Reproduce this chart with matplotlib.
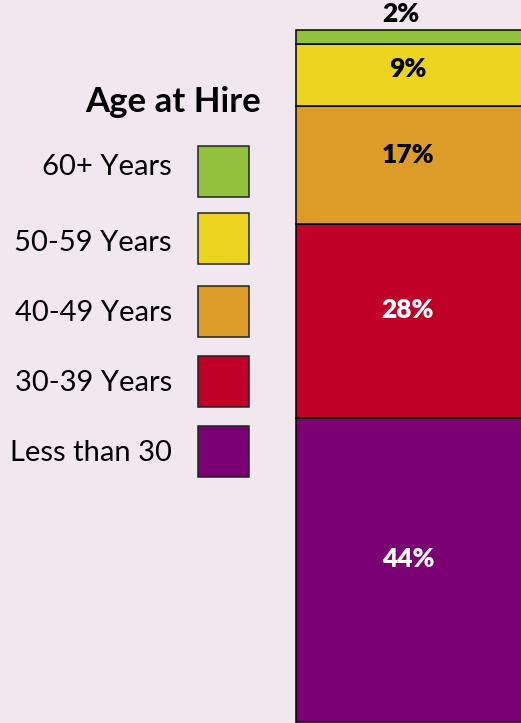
import matplotlib.pyplot as plt
from matplotlib.patches import Rectangle

# data (bottom to top)
categories = ["Less than 30", "30-39 Years", "40-49 Years", "50-59 Years", "60+ Years"]
shares = [44, 28, 17, 9, 2]
colors = ["#7A0074", "#C00027", "#DD9B28", "#EBD31E", "#93C13C"]
label_colors = ["white", "white", "black", "black", "black"]

BG = "#F1E7EE"
W, H = 521, 723

plt.rcParams['font.family'] = ['Lato', 'DejaVu Sans']

fig = plt.figure(figsize=(W / 100, H / 100), dpi=100)
fig.patch.set_facecolor(BG)

# stacked bar: 100% spans 692 px, bottom at y=722
ax = fig.add_axes([296 / W, 1 / H, 224 / W, 692 / H])
ax.set_xlim(0, 1)
ax.set_ylim(0, 100)
ax.axis("off")

bottom = 0
for v, c, tc in zip(shares, colors, label_colors):
    ax.bar(0, v, bottom=bottom, width=1.4, align="edge", color=c,
           edgecolor="black", linewidth=1.1, clip_on=False)
    if v < 5:
        ax.text(0.47, bottom + v + 0.6, f"{v}%", ha="center", va="bottom",
                fontsize=19, fontweight="heavy", color=tc)
    else:
        ax.text(0.5, bottom + v / 2 + min(1.5, v * 0.1), f"{v}%",
                ha="center", va="center",
                fontsize=19, fontweight="heavy", color=tc)
    bottom += v

# legend in pixel coordinates
lg = fig.add_axes([0, 0, 1, 1])
lg.set_xlim(0, W)
lg.set_ylim(H, 0)
lg.axis("off")
lg.patch.set_alpha(0)

lg.text(173, 102, "Age at Hire", ha="center", va="center",
        fontsize=25, fontweight="bold", color="black")

tops = [426, 356, 286, 213, 146]
text_y = [453, 383, 313, 243, 167]
for name, c, t, ty in zip(categories, colors, tops, text_y):
    lg.add_patch(Rectangle((198, t), 51, 51, facecolor=c, edgecolor="#222222",
                           linewidth=1.1))
    lg.text(172, ty, name, ha="right", va="center", fontsize=21, color="black")

fig.savefig("out.png", dpi=100, facecolor=BG)
